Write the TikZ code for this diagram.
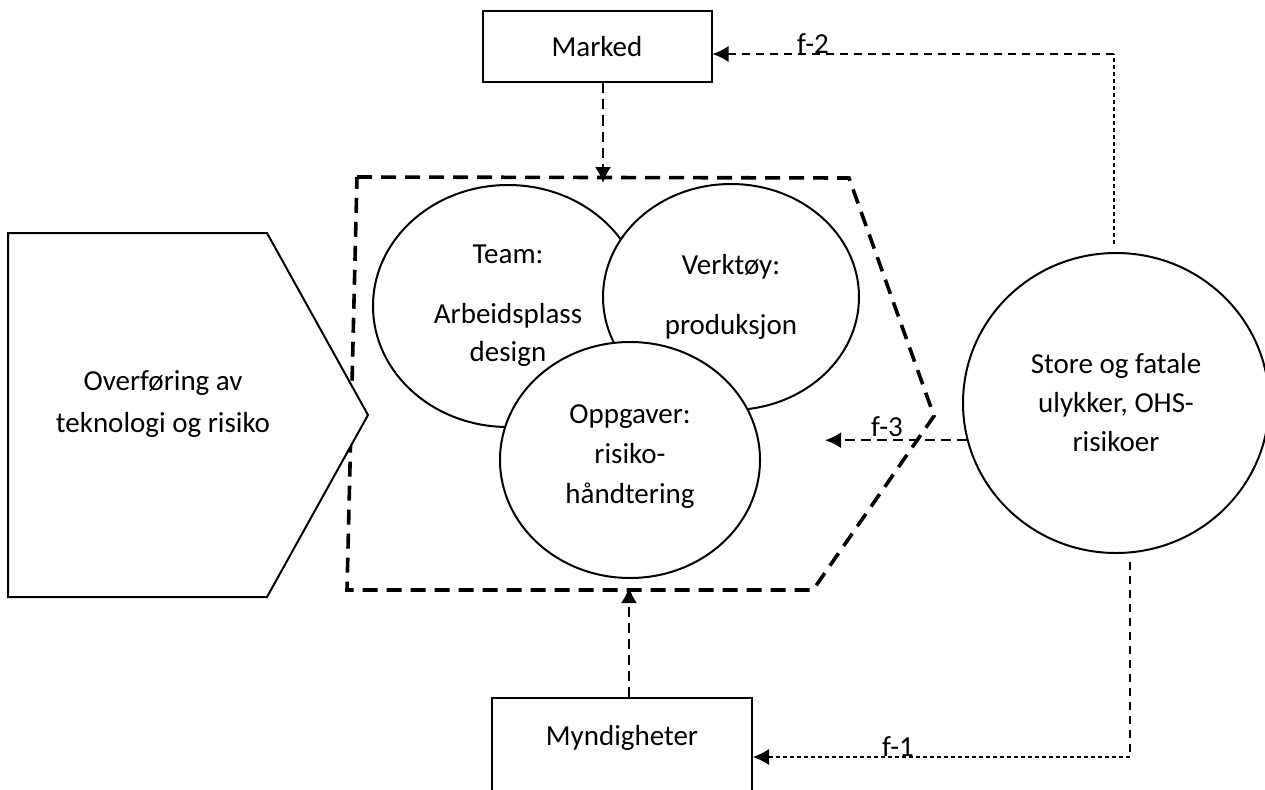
\documentclass[tikz,border=0pt]{standalone}
\usepackage{fontspec}
\setmainfont{Carlito}
\usetikzlibrary{shapes.geometric,arrows.meta}

\begin{document}
\begin{tikzpicture}[x=1pt,y=-1pt,
    font=\fontsize{29}{38}\selectfont,
    box/.style={draw,line width=2pt,rectangle,inner sep=0pt},
    blob/.style={draw,line width=2pt,ellipse,fill=white,inner sep=0pt,align=center},
    zone/.style={line width=3.6pt,dash pattern=on 15pt off 9pt},
    tip/.style={-{Latex[length=16pt,width=16pt]}},
    link/.style={line width=2.2pt,dash pattern=on 10pt off 6pt,tip},
    feed/.style={line width=1.6pt,dash pattern=on 8pt off 6pt},
    fine/.style={line width=1.2pt,dash pattern=on 4pt off 3pt}]
    \useasboundingbox (0,0) rectangle (1265,789);
    \draw [zone] (357,177) -- (849,178) -- (934,416) -- (813,590) -- (347,590) -- cycle;
    \node [blob,minimum width=270,minimum height=242] (team) at (508,306) {Team:\\[22pt]Arbeidsplass\\design};
    \node [blob,minimum width=256,minimum height=226] (tool) at (731,297) {Verktøy:\\[22pt]produksjon};
    \node [blob,minimum width=260,minimum height=236,font=\fontsize{29}{40}\selectfont,text depth=12pt] (task) at (630,460) {Oppgaver:\\risiko-\\håndtering};
    \draw [line width=2pt,fill=white] (8,233) -- (267,233) -- (368,415) -- (267,597) -- (8,597) -- cycle;
    \node [align=center,font=\fontsize{29}{42}\selectfont] (tech) at (163,404) {Overføring av\\teknologi og risiko};
    \node [box,minimum width=229,minimum height=71] (marked) at (597,47) {Marked};
    \node [box,anchor=north,minimum width=260,text height=20pt,text depth=100pt,inner ysep=27pt] (mynd) at (622,697) {Myndigheter};
    \node [blob,minimum width=306,minimum height=300,font=\fontsize{29}{39}\selectfont] (ohs) at (1116,403) {Store og fatale\\ulykker, OHS-\\risikoer};

    \coordinate (top) at (603,183);
    \coordinate (bot) at (629,587);
    \draw [link] (marked.south -| top) -- (top);
    \draw [link] (mynd.north -| bot) -- (bot);

    \coordinate (up) at (1114,54);
    \draw [fine,shorten <=8pt] (ohs.north -| up) -- (up);
    \draw [feed,tip] (up) -- (up -| marked.east);
    \node (f2) at (813,44) {f-2};

    \coordinate (mid) at (825,439);
    \draw [link] (ohs.194) -- (ohs.194 -| mid);
    \node (f3) at (887,427) {f-3};

    \coordinate (down) at (1130,757);
    \draw [feed,line width=2pt,shorten <=8pt] (ohs.south -| down) -- (down);
    \draw [fine,tip] (down) -- (down -| mynd.east);
    \node (f1) at (898,747) {f-1};
\end{tikzpicture}
\end{document}
